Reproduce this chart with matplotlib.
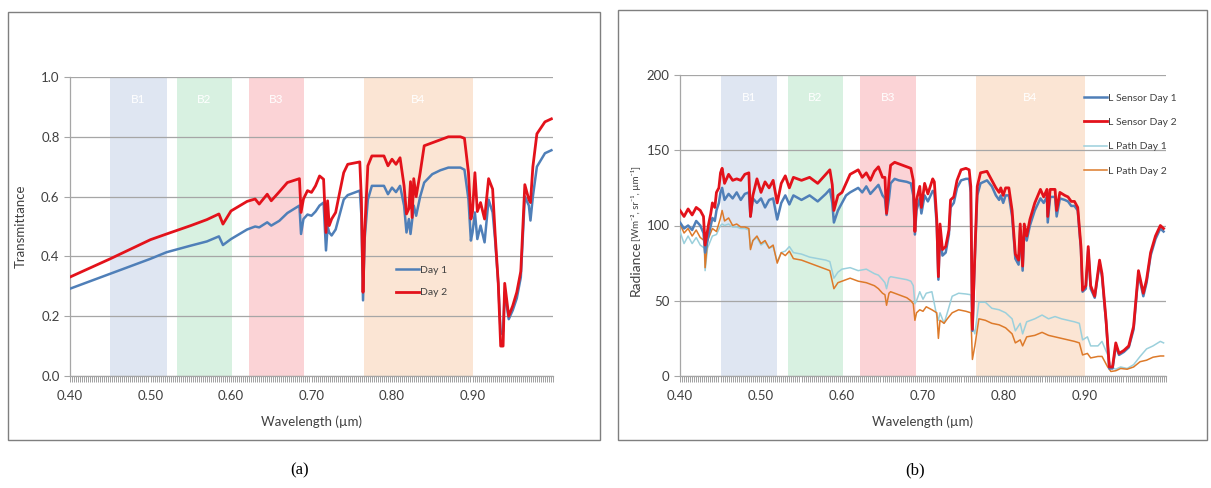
import matplotlib
matplotlib.use("Agg")
import matplotlib.pyplot as plt
from matplotlib.patches import Rectangle
from matplotlib.ticker import MultipleLocator

# ---- panel (a): transmittance ----
wl_a = [0.400, 0.450, 0.500, 0.520, 0.550, 0.570, 0.585, 0.590, 0.600, 0.620,
        0.630, 0.635, 0.645, 0.650, 0.660, 0.670, 0.685, 0.687, 0.690, 0.695,
        0.700, 0.705, 0.710, 0.715, 0.718, 0.720, 0.722, 0.725, 0.730, 0.735,
        0.740, 0.745, 0.760, 0.762, 0.764, 0.766, 0.770, 0.775, 0.790, 0.795,
        0.800, 0.805, 0.810, 0.815, 0.818, 0.821, 0.823, 0.825, 0.827, 0.830,
        0.835, 0.840, 0.850, 0.860, 0.870, 0.885, 0.890, 0.895, 0.898, 0.900,
        0.903, 0.906, 0.910, 0.915, 0.920, 0.925, 0.928, 0.932, 0.935, 0.938,
        0.940, 0.945, 0.950, 0.955, 0.960, 0.965, 0.970, 0.972, 0.975, 0.980,
        0.990, 0.998]
day2 = [0.331, 0.392, 0.456, 0.475, 0.503, 0.523, 0.542, 0.508, 0.552, 0.584,
        0.592, 0.575, 0.608, 0.586, 0.616, 0.647, 0.660, 0.547, 0.592, 0.620,
        0.614, 0.636, 0.669, 0.658, 0.480, 0.586, 0.503, 0.525, 0.547, 0.614,
        0.680, 0.708, 0.716, 0.590, 0.280, 0.480, 0.703, 0.736, 0.736, 0.703,
        0.725, 0.708, 0.730, 0.636, 0.542, 0.560, 0.650, 0.530, 0.660, 0.600,
        0.680, 0.770, 0.780, 0.790, 0.800, 0.800, 0.795, 0.680, 0.525, 0.550,
        0.680, 0.550, 0.580, 0.525, 0.660, 0.625, 0.480, 0.310, 0.100, 0.100,
        0.310, 0.200, 0.235, 0.280, 0.350, 0.640, 0.590, 0.580, 0.700, 0.810,
        0.850, 0.860]
day1 = [0.292, 0.342, 0.392, 0.414, 0.436, 0.450, 0.467, 0.438, 0.458, 0.490,
        0.500, 0.497, 0.514, 0.503, 0.519, 0.545, 0.570, 0.475, 0.525, 0.540,
        0.536, 0.550, 0.570, 0.580, 0.420, 0.500, 0.480, 0.470, 0.490, 0.540,
        0.590, 0.605, 0.620, 0.536, 0.253, 0.458, 0.590, 0.636, 0.636, 0.608,
        0.630, 0.615, 0.636, 0.570, 0.480, 0.525, 0.475, 0.520, 0.570, 0.536,
        0.600, 0.647, 0.675, 0.688, 0.697, 0.697, 0.690, 0.590, 0.453, 0.480,
        0.547, 0.458, 0.503, 0.447, 0.590, 0.547, 0.458, 0.310, 0.140, 0.150,
        0.280, 0.190, 0.220, 0.260, 0.330, 0.600, 0.570, 0.520, 0.600, 0.700,
        0.745, 0.755]

# ---- panel (b): radiance ----
wl_sensor = [0.400, 0.405, 0.410, 0.415, 0.420, 0.425, 0.429, 0.431, 0.435, 0.438,
             0.440, 0.443, 0.445, 0.448, 0.450, 0.452, 0.455, 0.460, 0.465, 0.470,
             0.475, 0.480, 0.485, 0.487, 0.490, 0.495, 0.500, 0.505, 0.510, 0.515,
             0.520, 0.525, 0.530, 0.535, 0.540, 0.550, 0.560, 0.570, 0.580, 0.585,
             0.588, 0.590, 0.595, 0.600, 0.605, 0.610, 0.620, 0.625, 0.630, 0.635,
             0.640, 0.645, 0.650, 0.653, 0.655, 0.658, 0.660, 0.665, 0.670, 0.680,
             0.685, 0.688, 0.690, 0.692, 0.696, 0.698, 0.702, 0.706, 0.712, 0.714,
             0.717, 0.719, 0.721, 0.724, 0.728, 0.732, 0.734, 0.738, 0.742, 0.747,
             0.753, 0.757, 0.759, 0.761, 0.764, 0.767, 0.771, 0.779, 0.785, 0.790,
             0.794, 0.796, 0.799, 0.802, 0.806, 0.810, 0.814, 0.818, 0.820, 0.823,
             0.825, 0.828, 0.832, 0.838, 0.845, 0.849, 0.853, 0.854, 0.857, 0.863,
             0.865, 0.869, 0.875, 0.879, 0.883, 0.887, 0.891, 0.895, 0.897, 0.901,
             0.904, 0.907, 0.912, 0.918, 0.921, 0.926, 0.930, 0.934, 0.938, 0.942,
             0.948, 0.954, 0.960, 0.966, 0.972, 0.976, 0.981, 0.987, 0.993, 0.997]
sensor_day2 = [110, 106, 111, 107, 112, 110, 106, 87, 100, 108,
               115, 112, 122, 125, 135, 138, 128, 134, 130, 131,
               130, 134, 135, 106, 120, 131, 122, 129, 125, 130,
               115, 128, 133, 125, 132, 130, 132, 128, 134, 137,
               127, 110, 120, 122, 128, 134, 137, 132, 135, 130,
               136, 139, 132, 132, 108, 130, 140, 142, 141, 139,
               138, 130, 96, 117, 126, 112, 128, 121, 131, 129,
               104, 66, 101, 84, 86, 97, 117, 119, 130, 137,
               138, 137, 126, 31, 81, 126, 135, 136, 130, 125,
               122, 125, 120, 125, 125, 110, 81, 77, 101, 73,
               101, 93, 104, 115, 124, 119, 124, 106, 124, 124,
               110, 122, 120, 119, 116, 116, 112, 86, 57, 60,
               86, 60, 53, 77, 68, 37, 6, 6, 22, 15,
               17, 20, 33, 70, 55, 64, 82, 93, 100, 98]
sensor_day1 = [102, 98, 100, 97, 103, 100, 95, 82, 93, 100,
               105, 103, 110, 115, 122, 125, 117, 121, 118, 122,
               117, 121, 122, 106, 118, 115, 118, 112, 117, 118,
               104, 115, 120, 114, 120, 117, 120, 116, 121, 124,
               115, 102, 110, 115, 120, 122, 125, 122, 126, 121,
               124, 127, 120, 118, 107, 118, 128, 131, 130, 129,
               128, 120, 94, 110, 118, 108, 120, 116, 123, 122,
               100, 64, 95, 80, 82, 94, 112, 115, 125, 130,
               131, 131, 122, 30, 78, 120, 128, 130, 126, 120,
               117, 120, 115, 120, 120, 106, 78, 74, 97, 70,
               97, 90, 100, 110, 118, 115, 119, 102, 119, 119,
               106, 118, 117, 116, 113, 113, 110, 84, 56, 58,
               84, 58, 52, 75, 66, 36, 5, 5, 20, 14,
               16, 19, 31, 68, 53, 62, 80, 91, 98, 96]

wl_path = [0.400, 0.405, 0.410, 0.415, 0.420, 0.425, 0.430, 0.431, 0.434, 0.440,
           0.445, 0.450, 0.452, 0.455, 0.460, 0.465, 0.470, 0.475, 0.480, 0.485,
           0.487, 0.490, 0.495, 0.500, 0.505, 0.510, 0.515, 0.520, 0.525, 0.530,
           0.535, 0.540, 0.550, 0.560, 0.570, 0.580, 0.585, 0.590, 0.595, 0.600,
           0.610, 0.620, 0.630, 0.640, 0.645, 0.650, 0.653, 0.655, 0.658, 0.660,
           0.670, 0.680, 0.685, 0.688, 0.690, 0.692, 0.696, 0.700, 0.704, 0.711,
           0.717, 0.719, 0.721, 0.726, 0.730, 0.736, 0.744, 0.753, 0.759, 0.761,
           0.764, 0.769, 0.777, 0.785, 0.794, 0.802, 0.810, 0.814, 0.820, 0.823,
           0.828, 0.838, 0.847, 0.855, 0.863, 0.871, 0.879, 0.887, 0.893, 0.897,
           0.903, 0.907, 0.916, 0.921, 0.928, 0.932, 0.938, 0.944, 0.952, 0.960,
           0.968, 0.976, 0.984, 0.993, 0.997]
path_day1 = [96, 88, 93, 88, 92, 87, 85, 70, 85, 93,
             94, 100, 101, 100, 101, 99, 99, 98, 98, 97,
             85, 90, 92, 87, 89, 85, 86, 76, 82, 83,
             86, 82, 81, 79, 78, 77, 76, 65, 69, 71,
             72, 70, 71, 68, 67, 64, 62, 58, 65, 66,
             65, 64, 63, 60, 48, 50, 56, 51, 55, 56,
             40, 37, 42, 35, 42, 53, 55, 54.5, 54, 33,
             28, 49, 49, 45, 44, 42, 38, 30, 35, 28,
             36, 38, 40.5, 38, 39.5, 38, 37, 36, 35, 24,
             26, 20, 20, 23, 14, 6, 4.5, 6, 5, 7.5,
             13, 18, 20, 23, 22]
path_day2 = [101, 95, 98, 93, 97, 92, 90, 72, 90, 98,
             96, 105, 110, 103, 105, 100, 101, 99, 99, 98,
             84, 90, 93, 88, 90, 85, 87, 75, 82, 80,
             83, 78, 77, 75, 73, 71, 70, 58, 62, 63,
             65, 63, 62, 60, 58, 55, 54, 47, 55, 56,
             54, 52, 50, 48, 37, 42, 44, 43, 46, 44,
             42, 25, 37, 35, 38, 42, 44, 43, 42, 11,
             20, 38, 37, 35, 34, 32, 28, 22, 24, 20,
             26, 27, 29, 27, 26, 25, 24, 23, 22, 14,
             15, 12, 13, 13, 6, 3, 3.5, 5, 4.5, 6,
             9.5, 10.5, 12.5, 13.3, 13.3]

bands = ["B1", "B2", "B3", "B4"]
band_lo = [0.450, 0.533, 0.622, 0.765]
band_hi = [0.520, 0.601, 0.691, 0.900]
band_colors = ["#dfe6f2", "#d8f1e1", "#fbd3d6", "#fbe5d4"]

plt.rcParams["font.family"] = ["Lato", "DejaVu Sans"]

W, H = 1211, 488
fig = plt.figure(figsize=(W / 100, H / 100), dpi=100)


def px_axes(x0, y0, x1, y1):
    return fig.add_axes([x0 / W, 1 - y1 / H, (x1 - x0) / W, (y1 - y0) / H])


def style(ax, ymax, ystep, fmt):
    ax.set_xlim(0.40, 1.00)
    ax.set_ylim(0, ymax)
    for lo, hi, c, name in zip(band_lo, band_hi, band_colors, bands):
        ax.axvspan(lo, hi, color=c, lw=0, zorder=0)
        ax.text((lo + hi) / 2, ymax * 0.925, name, color="white",
                ha="center", va="center", fontsize=8.5, zorder=1)
    ax.yaxis.set_major_locator(MultipleLocator(ystep))
    ax.yaxis.set_major_formatter(fmt)
    ax.yaxis.grid(True, color="#a6a6a6", lw=0.9, zorder=1)
    ax.set_axisbelow(True)
    ax.xaxis.set_major_locator(MultipleLocator(0.1))
    ax.xaxis.set_major_formatter(lambda v, p: f"{v:.2f}" if v < 0.95 else "")
    ax.xaxis.set_minor_locator(MultipleLocator(0.0025))
    ax.tick_params(axis="x", which="both", length=4, width=0.7,
                   color="#a0a0a0", labelsize=9.5, labelcolor="#404040", pad=6)
    ax.tick_params(axis="y", length=4, width=0.8, color="#a6a6a6",
                   labelsize=9.5, labelcolor="#404040")
    for s in ["top", "right"]:
        ax.spines[s].set_visible(False)
    for s in ["left", "bottom"]:
        ax.spines[s].set_color("#a6a6a6")
        ax.spines[s].set_linewidth(0.9)
    ax.set_xlabel("Wavelength (µm)", fontsize=9.5, color="#404040", labelpad=10)


# panel (a)
ax1 = px_axes(70, 77, 553, 376)
style(ax1, 1.0, 0.2, lambda v, p: f"{v:.1f}")
ax1.plot(wl_a, day1, color="#4f7fb8", lw=1.8, label="Day 1", zorder=3)
ax1.plot(wl_a, day2, color="#e3121b", lw=2.0, label="Day 2", zorder=4)
ax1.set_ylabel("Transmittance", fontsize=9.5, color="#404040", labelpad=10)
ax1.legend(loc="upper left", bbox_to_anchor=(0.655, 0.40), frameon=False,
           fontsize=7.5, handlelength=2.2, labelspacing=1.25, handletextpad=0.15,
           labelcolor="#404040")

# panel (b)
ax2 = px_axes(680, 75, 1166, 376)
style(ax2, 200, 50, lambda v, p: f"{v:.0f}")
ax2.plot(wl_path, path_day1, color="#9bd0dc", lw=1.1, label="L Path Day 1", zorder=3)
ax2.plot(wl_path, path_day2, color="#dd7a2a", lw=1.1, label="L Path Day 2", zorder=3)
ax2.plot(wl_sensor, sensor_day1, color="#4f7fb8", lw=1.8, label="L Sensor Day 1", zorder=4)
ax2.plot(wl_sensor, sensor_day2, color="#e3121b", lw=2.0, label="L Sensor Day 2", zorder=5)
# y label: "Radiance" plus a smaller unit bracket above it
lab_x = (636 - 680) / 486
lab_y = (376 - 241) / 301
ax2.text(lab_x, lab_y, "Radiance", rotation=90, transform=ax2.transAxes,
         ha="center", va="top", fontsize=10, color="#404040")
ax2.text(lab_x, lab_y, "[Wm⁻², sr⁻¹, µm⁻¹]", rotation=90, transform=ax2.transAxes,
         ha="center", va="bottom", fontsize=7, color="#404040")
h, l = ax2.get_legend_handles_labels()
order = [2, 3, 0, 1]
ax2.legend([h[i] for i in order], [l[i] for i in order], loc="upper left",
           bbox_to_anchor=(0.812, 0.97), frameon=False, fontsize=7.5,
           handlelength=2.2, labelspacing=1.45, handletextpad=0.15,
           labelcolor="#404040")

# outer frames and captions
for x0, y0, x1, y1 in [(8, 12, 600, 440), (618, 10, 1207, 440)]:
    fig.add_artist(Rectangle((x0 / W, 1 - y1 / H), (x1 - x0) / W, (y1 - y0) / H,
                             transform=fig.transFigure, fill=False,
                             edgecolor="#7f7f7f", lw=1.0))
fig.text(300 / W, 1 - 470 / H, "(a)", ha="center", va="center",
         fontsize=12, family="Liberation Serif")
fig.text(915 / W, 1 - 470 / H, "(b)", ha="center", va="center",
         fontsize=12, family="Liberation Serif")

fig.savefig("out.png", dpi=100)
